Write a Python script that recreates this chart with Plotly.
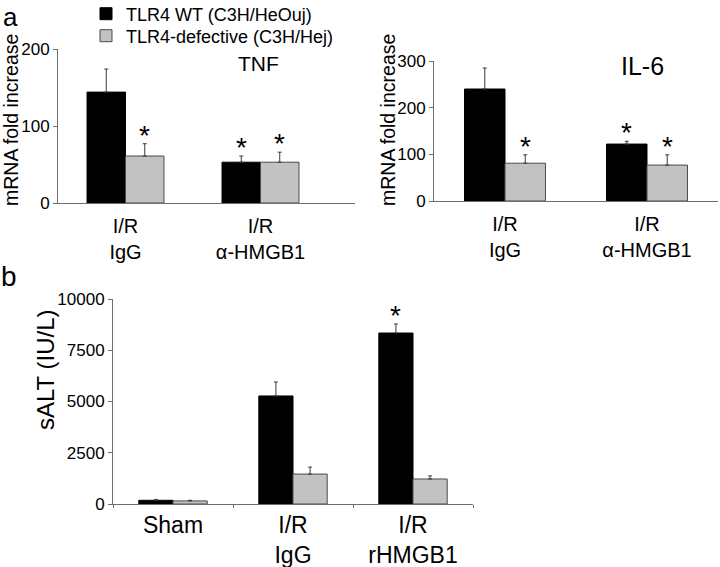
import plotly.graph_objects as go

# ---- data ----
series_names = ["TLR4 WT (C3H/HeOuj)", "TLR4-defective (C3H/Hej)"]

tnf_cats = ["I/R<br>IgG", "I/R<br>α-HMGB1"]
tnf_wt = [144, 53]
tnf_wt_err = [30, 8]
tnf_def = [61, 53]
tnf_def_err = [16, 13]
tnf_wt_sig = [False, True]
tnf_def_sig = [True, True]

il6_cats = ["I/R<br>IgG", "I/R<br>α-HMGB1"]
il6_wt = [240, 122]
il6_wt_err = [45, 6]
il6_def = [81, 77]
il6_def_err = [18, 22]
il6_wt_sig = [False, True]
il6_def_sig = [True, True]

alt_cats = ["Sham", "I/R<br>IgG", "I/R<br>rHMGB1"]
alt_wt = [180, 5270, 8340]
alt_wt_err = [40, 680, 440]
alt_def = [150, 1460, 1220]
alt_def_err = [30, 340, 150]
alt_wt_sig = [False, False, True]
alt_def_sig = [False, False, False]

FONT = "Liberation Sans, Arial, sans-serif"
BLACK = "#000000"
GRAY = "#c2c2c2"
AXIS = "#6e6e6e"
BARGAP = 0.43

fig = go.Figure()


def add_panel(cats, wt, wt_err, df, df_err, xa, ya, show_legend):
    for name, vals, errs, color, line, lg in [
        (series_names[0], wt, wt_err, BLACK, BLACK, "legend"),
        (series_names[1], df, df_err, GRAY, "#4a4a4a", "legend2"),
    ]:
        fig.add_trace(go.Bar(
            x=cats, y=vals, name=name, showlegend=show_legend, legend=lg,
            marker=dict(color=color, line=dict(color=line, width=1)),
            error_y=dict(type="data", array=errs, arrayminus=[0] * len(errs),
                         symmetric=False, color="#3a3a3a", thickness=1, width=2),
            xaxis=xa, yaxis=ya,
        ))


def add_stars(vals, errs, sigs, side, xref, yref, ysh):
    w = (1 - BARGAP) / 4
    for i, (v, e, s) in enumerate(zip(vals, errs, sigs)):
        if s:
            fig.add_annotation(x=i + side * w, y=v + e, xref=xref, yref=yref,
                               text="*", showarrow=False, yanchor="bottom",
                               xanchor="center", yshift=ysh,
                               font=dict(size=28, family=FONT, color="black"))


add_panel(tnf_cats, tnf_wt, tnf_wt_err, tnf_def, tnf_def_err, "x", "y", True)
add_panel(il6_cats, il6_wt, il6_wt_err, il6_def, il6_def_err, "x2", "y2", False)
add_panel(alt_cats, alt_wt, alt_wt_err, alt_def, alt_def_err, "x3", "y3", False)

add_stars(tnf_wt, tnf_wt_err, tnf_wt_sig, -1, "x", "y", -9)
add_stars(tnf_def, tnf_def_err, tnf_def_sig, 1, "x", "y", -9)
add_stars(il6_wt, il6_wt_err, il6_wt_sig, -1, "x2", "y2", -9)
add_stars(il6_def, il6_def_err, il6_def_sig, 1, "x2", "y2", -9)
add_stars(alt_wt, alt_wt_err, alt_wt_sig, -1, "x3", "y3", -9)

H = 567.0
W = 720.0


def xd(a, b):
    return [a / W, b / W]


def yd(bottom_px, top_px):
    return [1 - bottom_px / H, 1 - top_px / H]


def px_x(p):
    return p / W


def px_y(p):
    return 1 - p / H


common_x = dict(showline=True, linecolor=AXIS, linewidth=1, showgrid=False,
                zeroline=False, fixedrange=True, automargin=False)
common_y = dict(showline=True, linecolor=AXIS, linewidth=1, showgrid=False,
                zeroline=False, ticks="outside", ticklen=4, tickcolor=AXIS,
                tickformat="d", automargin=False,
                tickfont=dict(size=17, family=FONT, color="black"), fixedrange=True)

legend_common = dict(xanchor="left", yanchor="middle",
                     font=dict(size=18, family=FONT, color="black"),
                     bgcolor="rgba(0,0,0,0)", itemwidth=30)

fig.update_layout(
    width=720, height=567, autosize=False,
    margin=dict(l=0, r=0, t=0, b=0, pad=0, autoexpand=False),
    paper_bgcolor="white", plot_bgcolor="white",
    barmode="group", bargap=BARGAP, bargroupgap=0,
    font=dict(family=FONT, color="black"),
    xaxis=dict(domain=xd(58, 355), anchor="y", range=[-0.5, 1.7], ticks="",
               ticklabelstandoff=5,
               tickfont=dict(size=20, family=FONT, color="black"), **common_x),
    yaxis=dict(domain=yd(203, 49), anchor="x", range=[0, 200],
               tickvals=[0, 100, 200], **common_y),
    xaxis2=dict(domain=xd(434, 718), anchor="y2", range=[-0.5, 1.5], ticks="",
                ticklabelstandoff=5,
                tickfont=dict(size=20, family=FONT, color="black"), **common_x),
    yaxis2=dict(domain=yd(201, 61), anchor="x2", range=[0, 300],
                tickvals=[0, 100, 200, 300], **common_y),
    xaxis3=dict(domain=xd(113, 473), anchor="y3", range=[-0.5, 2.5],
                ticks="outside", ticklen=3, tickcolor=AXIS, tickson="boundaries",
                tickfont=dict(size=23, family=FONT, color="black"), **common_x),
    yaxis3=dict(domain=yd(504, 299), anchor="x3", range=[0, 10000],
                tickvals=[0, 2500, 5000, 7500, 10000], **common_y),
    legend=dict(x=px_x(86), y=px_y(14), **legend_common),
    legend2=dict(x=px_x(86), y=px_y(36), **legend_common),
)

# axis titles & panel texts
ann_common = dict(xref="paper", yref="paper", showarrow=False,
                  xanchor="center", yanchor="middle")
fig.add_annotation(x=px_x(11), y=px_y(120), text="mRNA fold increase", textangle=-90,
                   font=dict(size=19.5, family=FONT), **ann_common)
fig.add_annotation(x=px_x(388), y=px_y(120), text="mRNA fold increase", textangle=-90,
                   font=dict(size=19.5, family=FONT), **ann_common)
fig.add_annotation(x=px_x(45), y=px_y(370), text="sALT (IU/L)", textangle=-90,
                   font=dict(size=24, family=FONT), **ann_common)
fig.add_annotation(x=px_x(258), y=px_y(63), text="TNF",
                   font=dict(size=21, family=FONT), **ann_common)
fig.add_annotation(x=px_x(642), y=px_y(66), text="IL-6",
                   font=dict(size=25, family=FONT), **ann_common)
fig.add_annotation(x=px_x(1), y=px_y(0), text="a", xref="paper", yref="paper",
                   showarrow=False, xanchor="left", yanchor="top",
                   font=dict(size=26, family=FONT))
fig.add_annotation(x=px_x(9), y=px_y(276), text="b",
                   font=dict(size=28, family=FONT), **ann_common)

fig.write_html(
    "out.html",
    config={"displayModeBar": False},
    post_script="document.body.style.margin='0';document.body.style.overflow='hidden';",
)
